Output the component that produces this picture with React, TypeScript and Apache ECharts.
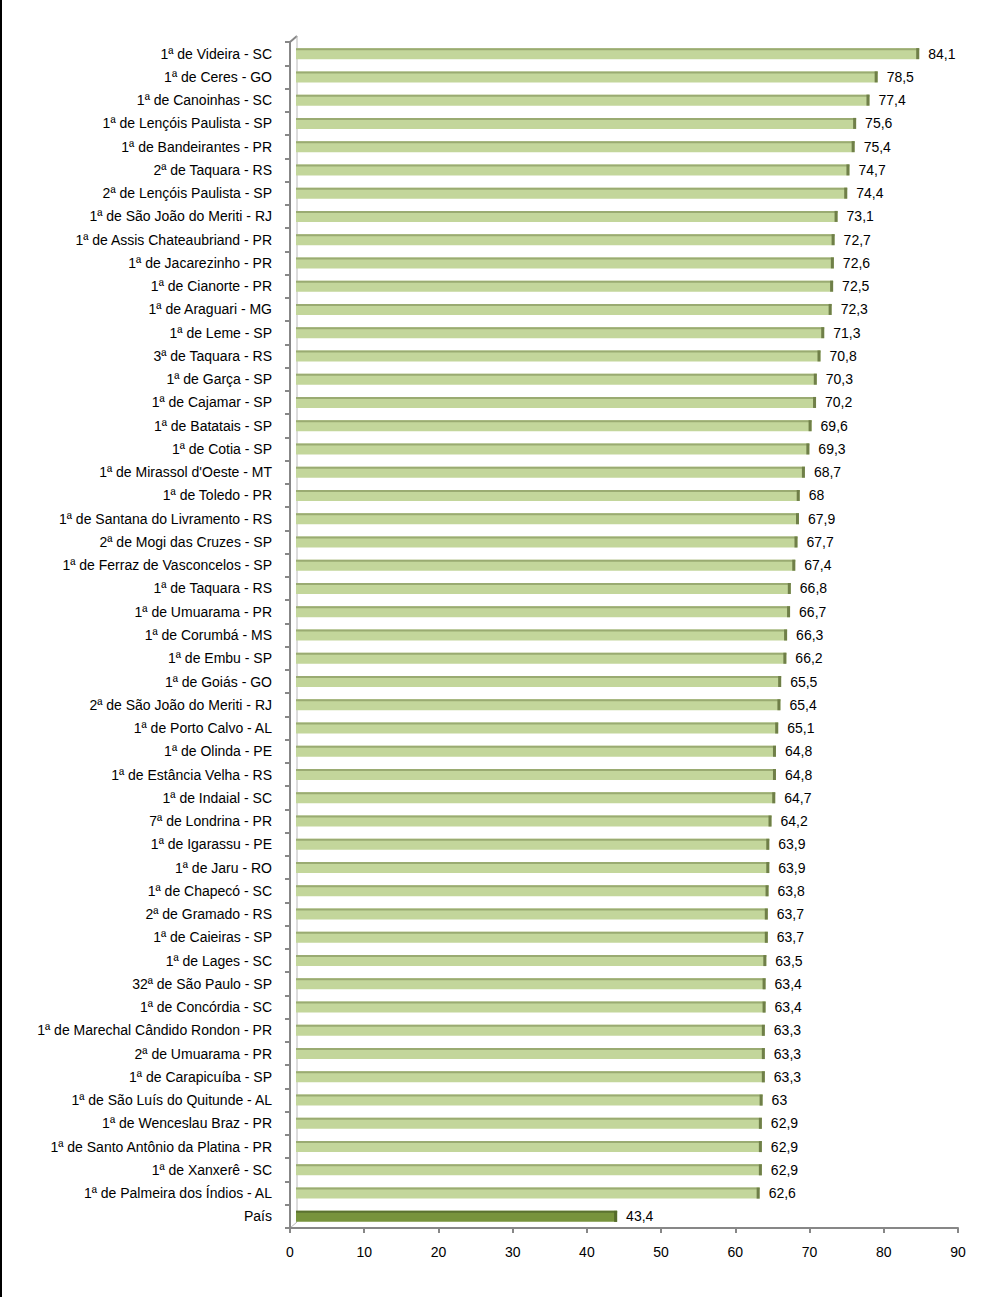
import React, { useEffect, useRef } from "react";
import * as echarts from "echarts";

const categories: string[] = [
  "1ª de Videira - SC",
  "1ª de Ceres - GO",
  "1ª de Canoinhas - SC",
  "1ª de Lençóis Paulista - SP",
  "1ª de Bandeirantes - PR",
  "2ª de Taquara - RS",
  "2ª de Lençóis Paulista - SP",
  "1ª de São João do Meriti - RJ",
  "1ª de Assis Chateaubriand - PR",
  "1ª de Jacarezinho - PR",
  "1ª de Cianorte - PR",
  "1ª de Araguari - MG",
  "1ª de Leme - SP",
  "3ª de Taquara - RS",
  "1ª de Garça - SP",
  "1ª de Cajamar - SP",
  "1ª de Batatais - SP",
  "1ª de Cotia - SP",
  "1ª de Mirassol d'Oeste - MT",
  "1ª de Toledo - PR",
  "1ª de Santana do Livramento - RS",
  "2ª de Mogi das Cruzes - SP",
  "1ª de Ferraz de Vasconcelos - SP",
  "1ª de Taquara - RS",
  "1ª de Umuarama - PR",
  "1ª de Corumbá - MS",
  "1ª de Embu - SP",
  "1ª de Goiás - GO",
  "2ª de São João do Meriti - RJ",
  "1ª de Porto Calvo - AL",
  "1ª de Olinda - PE",
  "1ª de Estância Velha - RS",
  "1ª de Indaial - SC",
  "7ª de Londrina - PR",
  "1ª de Igarassu - PE",
  "1ª de Jaru - RO",
  "1ª de Chapecó - SC",
  "2ª de Gramado - RS",
  "1ª de Caieiras - SP",
  "1ª de Lages - SC",
  "32ª de São Paulo - SP",
  "1ª de Concórdia - SC",
  "1ª de Marechal Cândido Rondon - PR",
  "2ª de Umuarama - PR",
  "1ª de Carapicuíba - SP",
  "1ª de São Luís do Quitunde - AL",
  "1ª de Wenceslau Braz - PR",
  "1ª de Santo Antônio da Platina - PR",
  "1ª de Xanxerê - SC",
  "1ª de Palmeira dos Índios - AL",
  "País",
];

const values: number[] = [
  84.1, 78.5, 77.4, 75.6, 75.4, 74.7, 74.4, 73.1, 72.7, 72.6, 72.5, 72.3, 71.3,
  70.8, 70.3, 70.2, 69.6, 69.3, 68.7, 68, 67.9, 67.7, 67.4, 66.8, 66.7, 66.3,
  66.2, 65.5, 65.4, 65.1, 64.8, 64.8, 64.7, 64.2, 63.9, 63.9, 63.8, 63.7, 63.7,
  63.5, 63.4, 63.4, 63.3, 63.3, 63.3, 63, 62.9, 62.9, 62.9, 62.6, 43.4,
];

const highlightCategory = "País";
const xTicks = { min: 0, max: 90, interval: 10 };

const FONT = "'Liberation Sans', Arial, sans-serif";
const FS = 14;

export default function App() {
  const ref = useRef<HTMLDivElement>(null);

  useEffect(() => {
    document.body.style.margin = "0";
    if (!ref.current) return;
    const chart = echarts.init(ref.current, undefined, { renderer: "svg" });

    const data = values.map((v, i) => [v, i]);

    const renderItem = (params: any, api: any) => {
      const v = api.value(0);
      const idx = api.value(1);
      const p0 = api.coord([0, idx]);
      const p1 = api.coord([v, idx]);
      const h = 11;
      const y = p0[1] - h / 2;
      const x0 = p0[0] + 6;
      const x1 = p1[0] + 5;
      const isHi = categories[idx] === highlightCategory;
      const body = isHi ? "#77933c" : "#c3d69b";
      const top = isHi ? "#5b7230" : "#9aab72";
      const cap = isHi ? "#556b2b" : "#6f7f48";
      const label = String(v).replace(".", ",");
      return {
        type: "group",
        children: [
          { type: "rect", shape: { x: x0, y, width: x1 - x0, height: h }, style: { fill: body } },
          { type: "rect", shape: { x: x0, y, width: x1 - x0, height: 2 }, style: { fill: top } },
          { type: "rect", shape: { x: x1 - 3, y: y, width: 3, height: h }, style: { fill: cap } },
          {
            type: "text",
            x: x1 + 9,
            y: p0[1],
            style: {
              text: label,
              fill: "#000",
              font: `${FS}px ${FONT}`,
              verticalAlign: "middle",
              align: "left",
            },
          },
        ],
      };
    };

    chart.setOption({
      animation: false,
      backgroundColor: "#ffffff",
      grid: { left: 290, right: 46, top: 42, bottom: 69, containLabel: false },
      xAxis: {
        type: "value",
        min: xTicks.min,
        max: xTicks.max,
        interval: xTicks.interval,
        axisLine: { show: true, lineStyle: { color: "#878787", width: 2 } },
        axisTick: { show: true, length: 5, inside: false, lineStyle: { color: "#878787", width: 2 } },
        axisLabel: { color: "#000", fontFamily: FONT, fontSize: FS, margin: 17 },
        splitLine: { show: false },
      },
      yAxis: {
        type: "category",
        data: categories,
        inverse: true,
        axisLine: { show: true, lineStyle: { color: "#878787", width: 2 } },
        axisTick: { show: true, length: 5, lineStyle: { color: "#878787", width: 2 } },
        axisLabel: { color: "#000", fontFamily: FONT, fontSize: FS, margin: 18 },
        splitLine: { show: false },
      },
      graphic: [
        { type: "rect", left: 0, top: 0, shape: { width: 2, height: 1297 }, style: { fill: "#000" } },
        { type: "line", shape: { x1: 290, y1: 42, x2: 297, y2: 36 }, style: { stroke: "#878787", lineWidth: 2 } },
        { type: "line", shape: { x1: 297, y1: 36, x2: 297, y2: 1222 }, style: { stroke: "#b8b8b8", lineWidth: 1 } },
        { type: "line", shape: { x1: 290, y1: 1228, x2: 297, y2: 1222 }, style: { stroke: "#b8b8b8", lineWidth: 1 } },
      ],
      series: [
        {
          type: "custom",
          renderItem,
          encode: { x: 0, y: 1 },
          data,
          clip: false,
        },
      ],
    });

    return () => chart.dispose();
  }, []);

  return <div ref={ref} style={{ width: 1004, height: 1297 }} />;
}
